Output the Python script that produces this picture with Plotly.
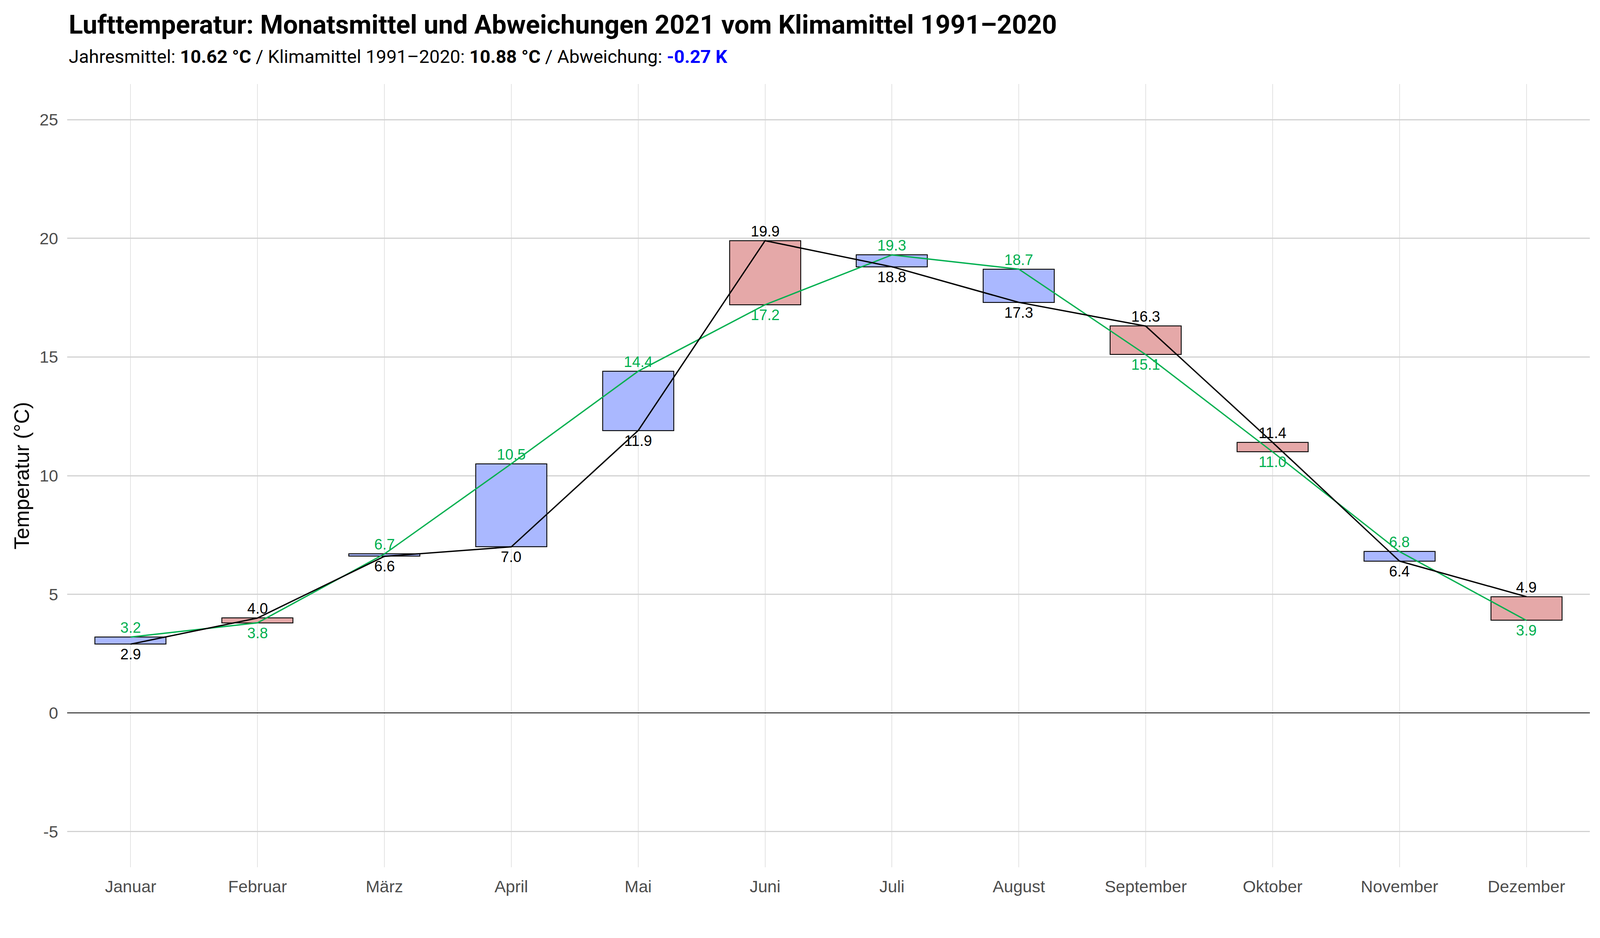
import plotly.graph_objects as go

# Monatsmittel der Lufttemperatur
monate = ["Januar", "Februar", "März", "April", "Mai", "Juni",
          "Juli", "August", "September", "Oktober", "November", "Dezember"]
t_2021 = [2.9, 4.0, 6.6, 7.0, 11.9, 19.9, 18.8, 17.3, 16.3, 11.4, 6.4, 4.9]
t_klima = [3.2, 3.8, 6.7, 10.5, 14.4, 17.2, 19.3, 18.7, 15.1, 11.0, 6.8, 3.9]
y_ticks = [-5, 0, 5, 10, 15, 20, 25]
y_ticktext = ["-5", "0", "5", "10", "15", "20", "25"]

GREEN = "#00b050"
BLUE_FILL = "#aab8ff"
RED_FILL = "#e5a8a8"
FONT = "Liberation Sans"

x = list(range(len(monate)))
base = [min(a, k) for a, k in zip(t_2021, t_klima)]
hoehe = [abs(a - k) for a, k in zip(t_2021, t_klima)]
farben = [RED_FILL if a > k else BLUE_FILL for a, k in zip(t_2021, t_klima)]

jahr = sum(t_2021) / len(t_2021)
klima = sum(t_klima) / len(t_klima)
abw = jahr - klima

fig = go.Figure()
fig.add_trace(go.Bar(
    x=x, y=hoehe, base=base, width=0.56,
    marker=dict(color=farben, line=dict(color="black", width=2.2)),
    hoverinfo="skip", showlegend=False,
))
fig.add_trace(go.Scatter(x=x, y=t_klima, mode="lines",
                         line=dict(color=GREEN, width=3.4), showlegend=False))
fig.add_trace(go.Scatter(x=x, y=t_2021, mode="lines",
                         line=dict(color="black", width=3.4), showlegend=False))

# Beschriftungen: hoeherer Wert oben, niedrigerer unten
for i, (a, k) in enumerate(zip(t_2021, t_klima)):
    for val, col, oben in ((a, "black", a > k), (k, GREEN, k >= a)):
        fig.add_annotation(
            x=i, y=val, text=f"{val:.1f}", showarrow=False,
            font=dict(family=FONT, size=38, color=col),
            yanchor="bottom" if oben else "top",
            yshift=1 if oben else -3,
        )

fig.add_annotation(
    xref="paper", yref="paper", x=0, y=1.076, xshift=2,
    xanchor="left", yanchor="middle", showarrow=False,
    text="<b>Lufttemperatur: Monatsmittel und Abweichungen 2021 vom Klimamittel 1991–2020</b>",
    font=dict(family="Roboto", size=67, color="black"),
)
fig.add_annotation(
    xref="paper", yref="paper", x=0, y=1.035, xshift=2,
    xanchor="left", yanchor="middle", showarrow=False,
    text=(f"Jahresmittel: <b>{jahr:.2f} °C</b> / Klimamittel 1991–2020: "
          f"<b>{klima:.2f} °C</b> / Abweichung: "
          f"<b><span style='color:#0000ff'>{abw:.2f} K</span></b>"),
    font=dict(family="Roboto", size=47, color="black"),
)
# Achsentitel links
fig.add_annotation(
    xref="paper", yref="paper", x=0, y=0.5, xshift=-117,
    xanchor="center", yanchor="middle", textangle=-90, showarrow=False,
    text="Temperatur (°C)",
    font=dict(family=FONT, size=53, color="black"),
)

fig.update_layout(
    autosize=True,
    margin=dict(l=164, r=18, t=207, b=173),
    paper_bgcolor="white", plot_bgcolor="white",
    bargap=0,
    xaxis=dict(
        range=[-0.5, 11.5], tickvals=x, ticktext=monate,
        showgrid=True, gridcolor="#e3e3e3", gridwidth=1.7,
        zeroline=False, showline=False, ticks="",
        ticklabelstandoff=20,
        tickfont=dict(family=FONT, size=43, color="#4d4d4d"),
    ),
    yaxis=dict(
        range=[-6.5, 26.5], tickvals=y_ticks, ticktext=y_ticktext,
        showgrid=True, gridcolor="#d2d2d2", gridwidth=2.6,
        zeroline=True, zerolinecolor="black", zerolinewidth=1.8,
        showline=False, ticks="",
        ticklabelstandoff=22,
        tickfont=dict(family=FONT, size=43, color="#4d4d4d"),
    ),
)

fig.write_html("out.html")
